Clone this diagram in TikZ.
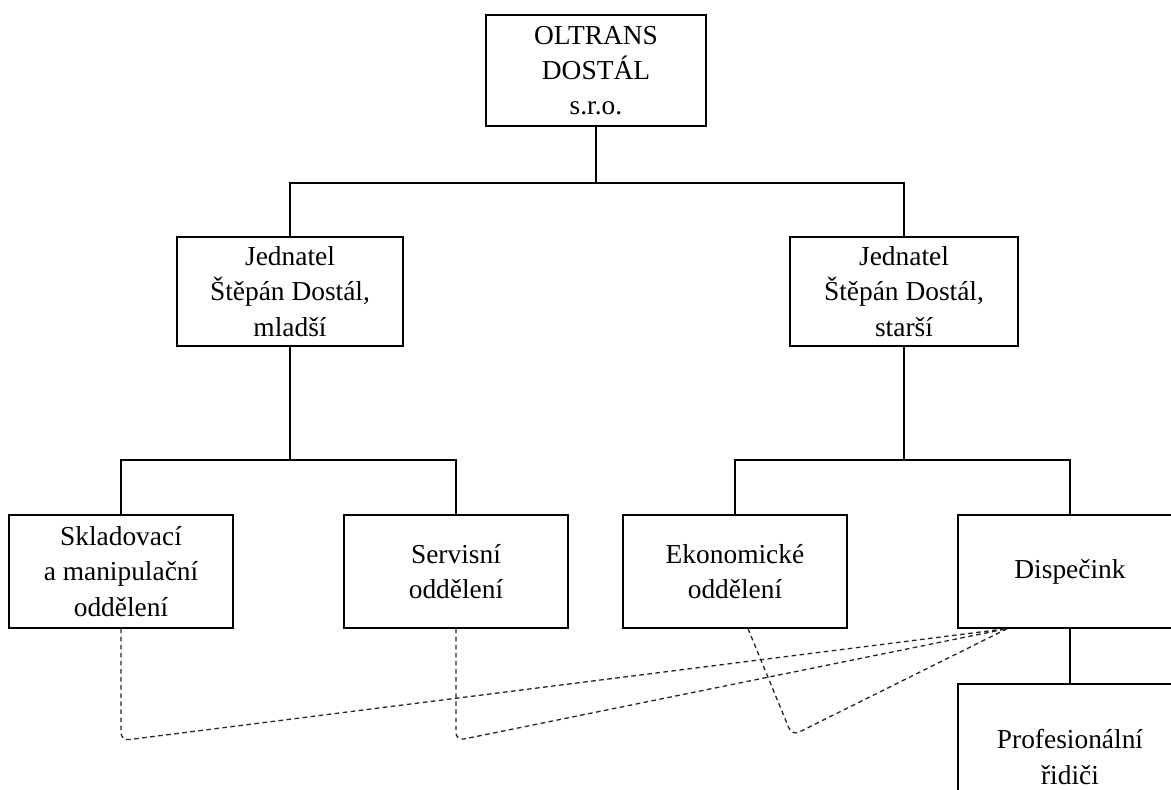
\documentclass[tikz,border=0pt]{standalone}
\usepackage{fontspec}
\setmainfont{Liberation Serif}
\usetikzlibrary{positioning,calc}

\begin{document}
\begin{tikzpicture}[x=0.02cm,y=-0.02cm,
    unit/.style={draw,line width=0.7pt,align=center,inner sep=0pt,
        minimum width=4.48cm,minimum height=2.26cm,
        font=\fontsize{15.6}{20}\selectfont},
    tree/.style={line width=0.7pt},
    dotlink/.style={line width=0.75pt,black!85,dash pattern=on 2.6pt off 2pt,rounded corners=0.16cm}]
% frame of the page
\useasboundingbox (0,0) rectangle (1171,790);
\clip (0,0) rectangle (1171,790);

% company and the two managers
\node[unit,minimum width=4.4cm,minimum height=2.22cm] (firm) at (596,70.5) {OLTRANS\\DOSTÁL\\s.r.o.};
\node[unit,minimum width=4.52cm,minimum height=2.18cm] (jmlad) at (290,291.5) {Jednatel\\Štěpán Dostál,\\mladší};
\node[unit,minimum width=4.56cm,minimum height=2.18cm] (jstar) at (904,291.5) {Jednatel\\Štěpán Dostál,\\starší};

% departments
\node[unit] (sklad) at (121,571.5) {Skladovací\\a manipulační\\oddělení};
\node[unit] (servis) at (456,571.5) {Servisní\\oddělení};
\node[unit] (ekon) at (735,571.5) {Ekonomické\\oddělení};
\node[unit] (disp) at (1070,571.5) {Dispečink};
\node[unit,minimum height=2.92cm] (ridici) at (1070,757) {Profesionální\\řidiči};

% tree lines
\coordinate (topfork) at (596,183);
\coordinate (leftfork) at (290,460);
\coordinate (rightfork) at (904,460);
\draw[tree] (firm.south) -- (topfork);
\draw[tree] (jmlad.north) |- (topfork) -| (jstar.north);
\draw[tree] (jmlad.south) -- (leftfork);
\draw[tree] (sklad.north) |- (leftfork) -| (servis.north);
\draw[tree] (jstar.south) -- (rightfork);
\draw[tree] (ekon.north) |- (rightfork) -| (disp.north);
\draw[tree] (disp.south) -- (ridici.north);

% dashed links to the dispatch
\coordinate (hub) at ($(disp.south west)+(50,0)$);
\draw[dotlink] (sklad.south) -- ++(0,112) -- (hub);
\draw[dotlink] (servis.south) -- ++(0,112) -- (hub);
\draw[dotlink] ($(ekon.south)+(13,0)$) -- ++(44,107) -- (hub);
\end{tikzpicture}
\end{document}
